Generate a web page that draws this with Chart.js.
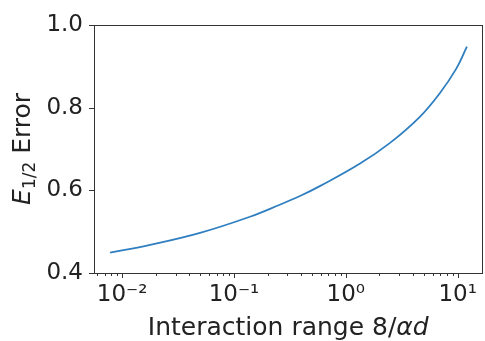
<!DOCTYPE html>
<html>
<head>
<meta charset="utf-8">
<script src="https://cdn.jsdelivr.net/npm/chart.js@4"></script>
<style>
  html, body { margin: 0; padding: 0; background: #fff; }
  #wrap { width: 485px; height: 341px; }
</style>
</head>
<body>
<div id="wrap"><canvas id="errChart" width="485" height="341"></canvas></div>
<script>
// valori
const rangeX = [0.0078, 0.0178, 0.0497, 0.139, 0.257, 0.389, 0.586, 1.33, 2.47, 4.57, 6.90, 9.73, 12.1];
const errorY = [0.449, 0.468, 0.497, 0.536, 0.565, 0.586, 0.610, 0.664, 0.714, 0.777, 0.834, 0.894, 0.947];

const xMajor = [0.01, 0.1, 1, 10];
const xMajorLabels = ['10\u207B\u00B2', '10\u207B\u00B9', '10\u2070', '10\u00B9'];
const yMajor = [0.4, 0.6, 0.8, 1.0];
const yLabels = ['0.4', '0.6', '0.8', '1.0'];

const X_MIN = 0.0056, X_MAX = 16.7;
const FONT = '"DejaVu Sans", sans-serif';

// tacche minori 2..9 per decade
const xMinor = [];
for (let e = -3; e <= 1; e++) {
    for (let k = 2; k <= 9; k++) {
        const v = k * Math.pow(10, e);
        if (v >= X_MIN && v <= X_MAX) xMinor.push(v);
    }
}

const framePlugin = {
    id: 'frame',
    afterDraw(chart) {
        const ctx = chart.ctx;
        const a = chart.chartArea;
        const xs = chart.scales.x, ys = chart.scales.y;
        ctx.save();
        ctx.strokeStyle = '#333';
        ctx.lineWidth = 1;
        ctx.strokeRect(Math.round(a.left) + 0.5, Math.round(a.top) + 0.5,
            Math.round(a.right - a.left) - 1, Math.round(a.bottom - a.top));

        // tacche
        ctx.beginPath();
        xMajor.forEach(v => {
            const p = Math.round(xs.getPixelForValue(v)) + 0.5;
            ctx.moveTo(p, a.bottom); ctx.lineTo(p, a.bottom + 5);
        });
        xMinor.forEach(v => {
            const p = Math.round(xs.getPixelForValue(v)) + 0.5;
            ctx.moveTo(p, a.bottom); ctx.lineTo(p, a.bottom + 3);
        });
        yMajor.forEach(v => {
            const p = Math.round(ys.getPixelForValue(v)) + 0.5;
            ctx.moveTo(a.left, p); ctx.lineTo(a.left - 5, p);
        });
        ctx.stroke();

        // titolo asse x
        ctx.fillStyle = '#222';
        ctx.textBaseline = 'alphabetic';
        const partsX = [['Interaction range 8/', 'normal'], ['\u03B1d', 'italic']];
        let tot = 0;
        partsX.forEach(p => { ctx.font = p[1] + ' 25px ' + FONT; tot += ctx.measureText(p[0]).width; });
        let cx = (a.left + a.right) / 2 - tot / 2;
        partsX.forEach(p => {
            ctx.font = p[1] + ' 25px ' + FONT;
            ctx.fillText(p[0], cx, 335);
            cx += ctx.measureText(p[0]).width;
        });

        // titolo asse y
        ctx.translate(30, (a.top + a.bottom) / 2);
        ctx.rotate(-Math.PI / 2);
        const partsY = [['E', 'italic 25px ', 0], ['1/2', 'normal 17px ', 5], [' Error', 'normal 25px ', 0]];
        tot = 0;
        partsY.forEach(p => { ctx.font = p[1] + FONT; tot += ctx.measureText(p[0]).width; });
        let cy = -tot / 2;
        partsY.forEach(p => {
            ctx.font = p[1] + FONT;
            ctx.fillText(p[0], cy, p[2]);
            cy += ctx.measureText(p[0]).width;
        });
        ctx.restore();
    }
};

new Chart(document.getElementById('errChart').getContext('2d'), {
    type: 'line',
    data: {
        datasets: [{
            data: rangeX.map((x, i) => ({ x: x, y: errorY[i] })),
            borderColor: '#2f7fc0',
            borderWidth: 1.8,
            pointRadius: 0,
            fill: false,
            tension: 0.4
        }]
    },
    options: {
        responsive: false,
        devicePixelRatio: 1,
        animation: false,
        layout: { padding: { top: 18, right: 2, left: 0, bottom: 0 } },
        plugins: { legend: { display: false }, tooltip: { enabled: false } },
        scales: {
            x: {
                type: 'logarithmic',
                min: X_MIN,
                max: X_MAX,
                afterBuildTicks: s => { s.ticks = xMajor.map(v => ({ value: v })); },
                afterFit: s => { s.height = 68; },
                grid: { display: false, drawTicks: false },
                border: { display: false },
                ticks: {
                    autoSkip: false,
                    maxRotation: 0,
                    padding: 8,
                    color: '#222',
                    font: { family: FONT, size: 23 },
                    callback: (v) => {
                        const i = xMajor.findIndex(m => Math.abs(m - v) / m < 1e-6);
                        return i >= 0 ? xMajorLabels[i] : '';
                    }
                }
            },
            y: {
                type: 'linear',
                min: 0.4,
                max: 1.0,
                afterBuildTicks: s => { s.ticks = yMajor.map(v => ({ value: v })); },
                afterFit: s => { s.width = 94; },
                grid: { display: false, drawTicks: false },
                border: { display: false },
                ticks: {
                    autoSkip: false,
                    padding: 11,
                    color: '#222',
                    font: { family: FONT, size: 23 },
                    callback: (v) => {
                        const i = yMajor.findIndex(m => Math.abs(m - v) < 1e-6);
                        return i >= 0 ? yLabels[i] : '';
                    }
                }
            }
        }
    },
    plugins: [framePlugin]
});
</script>
</body>
</html>
